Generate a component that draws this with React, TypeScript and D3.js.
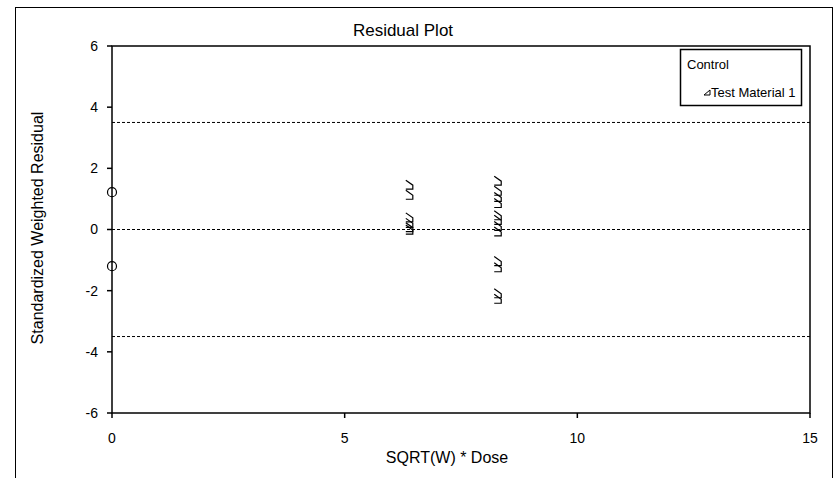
import React from 'react';
import * as d3 from 'd3';

// values
const xTicks = [0, 5, 10, 15];
const yTicks = [-6, -4, -2, 0, 2, 4, 6];
const refLines = [3.5, 0, -3.5];

const controlX = [0, 0];
const controlY = [1.22, -1.2];

const tmLowX = [6.4, 6.4, 6.4, 6.4, 6.4, 6.4];
const tmLowY = [1.45, 1.12, 0.38, 0.2, 0.06, -0.02];
const tmHighX = [8.3, 8.3, 8.3, 8.3, 8.3, 8.3, 8.3, 8.3, 8.3, 8.3, 8.3, 8.3];
const tmHighY = [1.58, 1.25, 1.05, 0.85, 0.45, 0.3, 0.1, -0.08, -1.05, -1.25, -2.1, -2.28];

const font = 'Liberation Sans, Arial, sans-serif';

// open right-triangle glyph used as the Test Material marker
const triPath = 'M-4,-5 L3,0 L3,4 L-4,4';

export default function App() {
  const width = 838;
  const height = 478;

  const x = d3.scaleLinear().domain([0, 15]).range([112, 810]);
  const y = d3.scaleLinear().domain([-6, 6]).range([413, 46]);

  const tmX = tmLowX.concat(tmHighX);
  const tmY = tmLowY.concat(tmHighY);

  return (
    <svg width={width} height={height} style={{ position: 'absolute', left: 0, top: 0 }}>
      <rect x={0} y={0} width={width} height={height} fill="#fff" />
      {/* chart area border */}
      <rect x={15.5} y={7.5} width={817} height={490} fill="none" stroke="#000" strokeWidth={1} />

      <text x={403} y={36} textAnchor="middle" fontFamily={font} fontSize={17}>Residual Plot</text>

      {/* plot box */}
      <rect x={x(0)} y={y(6)} width={x(15) - x(0)} height={y(-6) - y(6)}
        fill="none" stroke="#000" strokeWidth={1.5} />

      {refLines.map(v => (
        <line key={v} x1={x(0)} x2={x(15)} y1={y(v)} y2={y(v)}
          stroke="#000" strokeWidth={1} strokeDasharray="3,2" />
      ))}

      {yTicks.map(t => (
        <g key={t}>
          <line x1={x(0) - 5} x2={x(0)} y1={y(t)} y2={y(t)} stroke="#000" strokeWidth={1.5} />
          <text x={98} y={y(t)} dy="0.35em" textAnchor="end" fontFamily={font} fontSize={14}>{t}</text>
        </g>
      ))}

      {xTicks.map(t => (
        <g key={t}>
          <line x1={x(t)} x2={x(t)} y1={y(-6)} y2={y(-6) + 5} stroke="#000" strokeWidth={1.5} />
          <text x={x(t)} y={443} textAnchor="middle" fontFamily={font} fontSize={14}>{t}</text>
        </g>
      ))}

      <text transform="translate(43,228) rotate(-90)" textAnchor="middle" fontFamily={font} fontSize={16}>
        Standardized Weighted Residual
      </text>
      <text x={447} y={463} textAnchor="middle" fontFamily={font} fontSize={16}>SQRT(W) * Dose</text>

      {controlX.map((v, i) => (
        <circle key={'c' + i} cx={x(v)} cy={y(controlY[i])} r={4.5} fill="none" stroke="#000" strokeWidth={1.2} />
      ))}

      {tmX.map((v, i) => (
        <path key={'t' + i} d={triPath} transform={`translate(${x(v)},${y(tmY[i])})`}
          fill="none" stroke="#000" strokeWidth={1.2} />
      ))}

      {/* legend */}
      <rect x={680.5} y={49.5} width={121} height={56} fill="#fff" stroke="#000" strokeWidth={1.5} />
      <text x={687} y={69} fontFamily={font} fontSize={13}>Control</text>
      <path d="M-3,2 L3,-3 L3,2 Z" transform="translate(707,93)" fill="none" stroke="#000" strokeWidth={1} />
      <text x={711} y={97} fontFamily={font} fontSize={13}>Test Material 1</text>
    </svg>
  );
}
